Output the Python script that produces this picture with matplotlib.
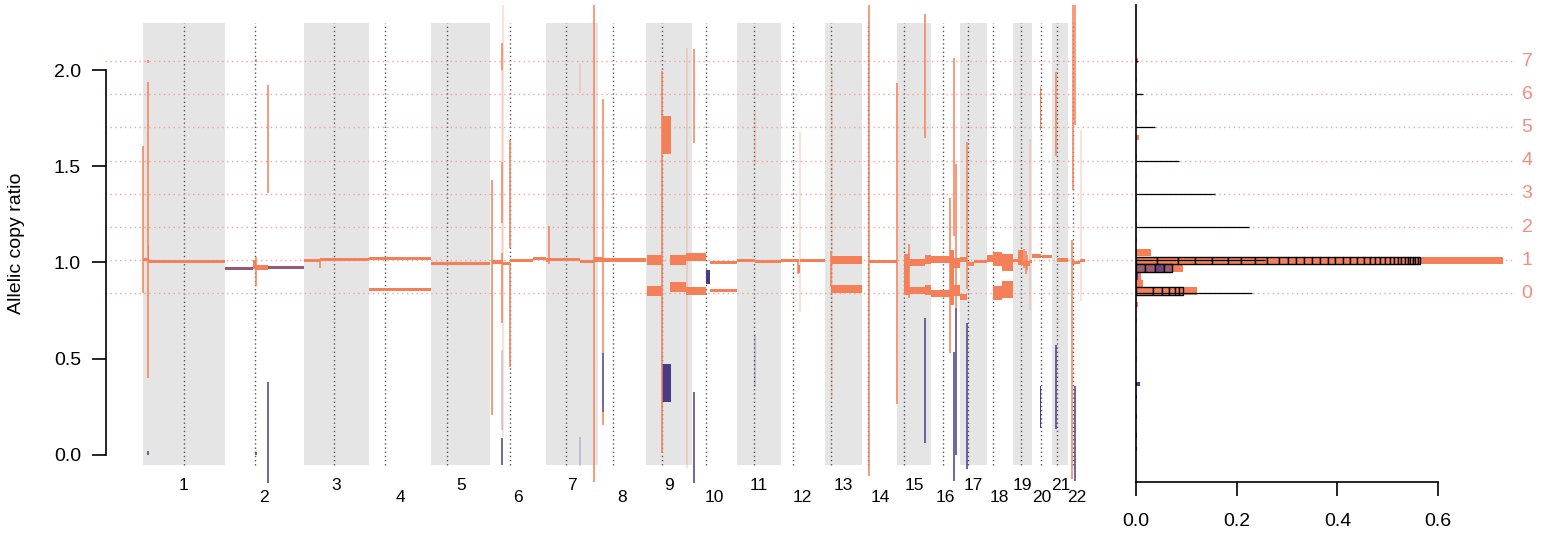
import numpy as np
import matplotlib.pyplot as plt
import matplotlib.transforms as mtransforms
from matplotlib.patches import Rectangle

plt.rcParams['font.family'] = ['Liberation Sans', 'DejaVu Sans']

# chromosome sizes and centromeres (Mb, hg19)
chrom_len = [249.25, 243.2, 198.0, 191.15, 180.9, 171.1, 159.1, 146.4, 141.2, 135.5, 135.0,
             133.85, 115.2, 107.3, 102.5, 90.35, 81.2, 78.1, 59.1, 63.0, 48.1, 51.3]
centromere = [125.0, 93.3, 91.0, 50.4, 48.4, 61.0, 59.9, 45.6, 49.0, 40.2, 53.7,
              35.8, 17.9, 17.6, 19.0, 36.6, 24.0, 17.2, 26.5, 27.5, 13.2, 14.7]

# allelic segments: chromosome, start / end (Mb), ratio, error half-width, colour kind
seg_chrom = [1, 1, 1,
             2, 2, 2, 2,
             3, 3, 4, 4, 5,
             6, 6, 6, 6,
             7, 7, 7, 7, 8, 8,
             9, 9, 9, 9, 9, 9, 9, 9,
             10, 10, 10, 10, 10,
             11, 11, 12, 12, 12,
             13, 13, 14,
             15, 15, 15, 15, 15,
             16, 16, 16, 16, 16,
             17, 17, 17, 17,
             18, 18, 18, 18, 18,
             19, 19, 19, 19,
             20, 20, 20, 20,
             21, 22, 22, 22]
seg_start = [0, 16, 16,
             0, 88, 97, 133,
             0, 49, 0, 0, 0,
             4, 38, 60, 129,
             0, 6, 103, 146, 0, 15,
             1, 1, 47, 47, 73, 73, 122, 122,
             0, 0, 42, 54, 54,
             0, 56, 0, 51, 58,
             20, 20, 21,
             20, 36, 36, 84, 84,
             0, 0, 58, 71, 71,
             0, 0, 19, 41,
             0, 17, 17, 45, 45,
             0, 17, 31, 53,
             0, 30, 26, 26,
             13, 12, 17, 35]
seg_end = [16, 249.25, 18,
           88, 97, 133, 243.2,
           49, 198.0, 191.15, 191.15, 180.9,
           38, 60, 129, 171.1,
           6, 103, 146, 159.1, 15, 146.4,
           47, 47, 75, 75, 122, 122, 141.2, 141.2,
           42, 42, 54, 135.5, 135.5,
           56, 135.0, 54, 58, 133.85,
           115.2, 115.2, 107.3,
           36, 84, 84, 102.5, 102.5,
           58, 58, 71, 90.35, 90.35,
           19, 19, 41, 81.2,
           17, 45, 45, 78.1, 78.1,
           17, 31, 53, 59.1,
           28, 63.0, 29, 29,
           48.1, 17, 35, 51.3]
seg_ratio = [1.016, 1.007, 1.048,
             0.969, 0.990, 0.974, 0.974,
             1.012, 1.017, 1.021, 0.861, 0.996,
             1.003, 0.994, 1.011, 1.020,
             1.014, 1.016, 1.007, 1.017, 1.017, 1.013,
             1.013, 0.853, 1.662, 0.374, 1.013, 0.872, 1.030, 0.853,
             1.030, 0.853, 0.925, 1.000, 0.856,
             1.012, 1.006, 1.012, 0.965, 1.012,
             1.013, 0.861, 1.007,
             0.937, 1.000, 0.855, 1.015, 0.857,
             1.016, 0.840, 0.922, 0.997, 0.855,
             1.016, 0.821, 0.994, 1.005,
             1.020, 1.020, 0.841, 1.000, 0.860,
             1.010, 1.026, 0.995, 1.005,
             1.034, 1.029, 1.800, 0.248,
             1.013, 1.005, 1.000, 1.010]
seg_err = [0.007, 0.008, 0.037,
           0.007, 0.025, 0.013, 0.008,
           0.008, 0.008, 0.008, 0.008, 0.009,
           0.011, 0.007, 0.008, 0.008,
           0.011, 0.008, 0.008, 0.012, 0.012, 0.008,
           0.026, 0.026, 0.100, 0.098, 0.026, 0.026, 0.021, 0.021,
           0.021, 0.021, 0.036, 0.008, 0.008,
           0.008, 0.008, 0.008, 0.020, 0.008,
           0.020, 0.020, 0.008,
           0.106, 0.017, 0.017, 0.025, 0.026,
           0.017, 0.017, 0.143, 0.027, 0.028,
           0.015, 0.016, 0.011, 0.009,
           0.018, 0.036, 0.036, 0.044, 0.044,
           0.008, 0.040, 0.015, 0.008,
           0.011, 0.008, 0.110, 0.109,
           0.008, 0.012, 0.010, 0.009]
seg_kind = ['o', 'o', 'o',
            'm', 'o', 'o', 'm',
            'o', 'o', 'o', 'o', 'o',
            'o', 'o', 'o', 'o',
            'o', 'o', 'o', 'o', 'o', 'o',
            'o', 'o', 'o', 'p', 'o', 'o', 'o', 'o',
            'o', 'o', 'p', 'o', 'o',
            'o', 'o', 'o', 'o', 'o',
            'o', 'o', 'o',
            'o', 'o', 'o', 'o', 'o',
            'o', 'o', 'o', 'o', 'o',
            'o', 'o', 'o', 'o',
            'o', 'o', 'o', 'o', 'o',
            'o', 'o', 'o', 'o',
            'o', 'o', 'o', 'p',
            'o', 'o', 'o', 'o']

# short, noisy segments drawn as thin spikes: chromosome, position (Mb), low, high, kind
spike_chrom = [1, 1, 1, 1,
               2, 2, 2, 2, 2, 3,
               6, 6, 6, 6, 6, 6, 6, 6, 6, 6, 6,
               7, 7, 7, 7, 8, 8, 8,
               9, 9, 10, 10, 11, 11, 12, 12, 13, 13, 14, 14,
               15, 15, 15, 16, 16, 16, 16, 16, 17, 17,
               19, 19, 19, 19, 21, 21,
               22, 22, 22, 22, 22]
spike_pos = [0.5, 16.5, 16.5, 16.5,
             97, 131.5, 131.5, 96.5, 96.5, 49.5,
             4, 36.5, 36.5, 36.5, 36.5, 36.5, 36.5, 36.5, 39.5, 60.6, 60.6,
             9, 146.5, 102.8, 102.8, 15, 15, 15,
             47, 123.2, 5.8, 5.8, 56, 56, 59, 51, 20, 22.5, 21.4, 106,
             35, 85.3, 85.3, 59.3, 69.7, 69.7, 75.5, 75.5, 19, 19,
             35, 40, 45, 54, 10.7, 10.7,
             15.6, 12.5, 21.7, 21.7, 40]
spike_lo = [0.839, 0.400, 2.035, 0.000,
            0.878, 1.362, -0.146, 2.040, 0.000, 0.970,
            0.207, 2.000, 1.524, 1.204, 1.050, 0.687, 0.129, -0.053, 0.094, 1.074, 0.458,
            0.990, -0.140, 1.880, -0.060, 0.528, 0.224, 0.155,
            0.008, -0.070, 1.623, -0.146, 1.510, 0.350, 0.745, 0.940, 0.870, 0.300, -0.110, 0.264,
            0.817, 1.647, 0.062, 0.527, 1.140, -0.137, 0.763, 0.000, 0.864, -0.074,
            0.970, 0.940, 0.960, 0.753, 1.555, 0.135,
            1.377, -0.128, 1.715, -0.137, 0.800]
spike_hi = [1.608, 1.940, 2.055, 0.020,
            1.028, 1.923, 0.380, 2.060, 0.015, 1.012,
            1.428, 2.140, 2.000, 1.524, 1.204, 1.050, 0.545, 0.087, 2.339, 1.637, 0.996,
            1.190, 2.339, 2.030, 0.090, 1.850, 0.528, 0.224,
            1.998, 2.114, 2.109, 0.328, 1.790, 0.630, 1.680, 1.000, 1.060, 2.000, 2.339, 1.934,
            1.096, 2.294, 0.709, 1.335, 2.062, 0.535, 1.514, 0.763, 1.626, 0.685,
            1.070, 1.060, 1.040, 1.644, 1.990, 0.571,
            2.339, 1.117, 2.339, 0.357, 1.690]
spike_kind = ['o', 'o', 'o', 'p',
              'o', 'o', 'p', 'o', 'p', 'o',
              'o', 'o', 'fo', 'o', 'fo', 'o', 'fp', 'p', 'fo', 'o', 'o',
              'o', 'o', 'fo', 'fp', 'o', 'p', 'o',
              'o', 'fo', 'o', 'p', 'fo', 'fp', 'fo', 'o', 'o', 'fo', 'o', 'o',
              'o', 'o', 'p', 'o', 'o', 'p', 'o', 'p', 'o', 'p',
              'o', 'o', 'o', 'fo', 'o', 'p',
              'o', 'o', 'o', 'p', 'fo']

# copy-number levels (dotted lines, labels 0..7)
level_labels = [0, 1, 2, 3, 4, 5, 6, 7]
level_ratio = [0.839, 1.012, 1.184, 1.357, 1.530, 1.702, 1.875, 2.047]
level_line_len = [0.231, 0.257, 0.224, 0.156, 0.086, 0.038, 0.0145, 0.004]

# right-hand histogram rows: ratio, total length fraction, colour kind
hist_ratio = [1.052, 1.011, 0.972, 0.930, 0.930, 0.891, 0.852]
hist_total = [0.030, 0.728, 0.093, 0.009, 0.003, 0.013, 0.122]
hist_kind = ['o', 'o', 'o', 'o', 'p', 'o', 'o']
# individual segments stacked inside the main rows
boxes_level1 = [0.041, 0.043, 0.033, 0.033, 0.032, 0.026, 0.028, 0.025, 0.023, 0.017, 0.016,
                0.016, 0.017, 0.016, 0.015, 0.015, 0.015, 0.015, 0.013, 0.013, 0.012, 0.011,
                0.010, 0.010, 0.009, 0.008, 0.008, 0.007, 0.007, 0.006, 0.005, 0.005, 0.005,
                0.005, 0.005]
boxes_mixed = [0.018, 0.020, 0.017, 0.017]
boxes_mixed_col = ['#9E5B73', '#9E5B73', '#73457E', '#9E5B73']
boxes_level0 = [0.034, 0.017, 0.015, 0.011, 0.009, 0.007]
# tiny rows along the axis
small_ratio = [2.05, 1.95, 1.87, 1.78, 1.648, 1.55, 1.45, 1.33, 1.20, 1.12, 0.78, 0.70, 0.60, 0.50,
               0.368, 0.30, 0.20, 0.10, 0.03]
small_len = [0.003, 0.002, 0.002, 0.002, 0.006, 0.002, 0.002, 0.002, 0.002, 0.002, 0.003, 0.002,
             0.002, 0.002, 0.008, 0.002, 0.002, 0.002, 0.002]
small_kind = ['o'] * 14 + ['p'] * 5

ORANGE = '#F4805A'
PURPLE = '#473B8A'
MIXED = '#965A77'
GRAY = '#E4E5E4'
LEVEL_COL = '#F4A39C'
LABEL_COL = '#F58C80'
kind_style = {'o': (ORANGE, 1.0), 'p': (PURPLE, 1.0), 'm': (MIXED, 1.0),
              'fo': (ORANGE, 0.3), 'fp': (PURPLE, 0.3)}

W, H = 1551, 537
fig = plt.figure(figsize=(W / 100, H / 100), dpi=100)
ylo, yhi = -0.139, 2.339
ax = fig.add_axes([143 / W, (H - 481.5) / H, 942 / W, 476.5 / H])
chrom_start = np.concatenate([[0], np.cumsum(chrom_len)[:-1]])
total = float(np.sum(chrom_len))
ax.set_xlim(0, total)
ax.set_ylim(ylo, yhi)

# chromosome bands and centromeres
for i, (st, ln) in enumerate(zip(chrom_start, chrom_len)):
    if i % 2 == 0:
        ax.add_patch(Rectangle((st, -0.051), ln, 2.297, color=GRAY, lw=0, zorder=0))
ax.vlines(chrom_start + np.array(centromere), -0.051, 2.246, colors='#555555',
          linestyles=(0, (1, 2)), lw=1, zorder=1)

# dotted copy-number levels across both panels
blend = mtransforms.blended_transform_factory(fig.transFigure, ax.transData)
for lv in level_ratio:
    ax.plot([105 / W, 1136 / W], [lv, lv], transform=blend, color=LEVEL_COL,
            ls=(0, (1, 2.5)), lw=1, clip_on=False, zorder=1.5)

# segments
for c, s, e, r, er, k in zip(seg_chrom, seg_start, seg_end, seg_ratio, seg_err, seg_kind):
    col, a = kind_style[k]
    x0 = chrom_start[c - 1] + s
    ax.add_patch(Rectangle((x0, r - er), e - s, 2 * er, facecolor=col, alpha=a,
                           lw=0, zorder=3))
for c, p, lo, hi, k in zip(spike_chrom, spike_pos, spike_lo, spike_hi, spike_kind):
    col, a = kind_style[k]
    ax.vlines(chrom_start[c - 1] + p, lo, hi, colors=col, alpha=a, lw=1.1,
              zorder=4, clip_on=False)

for s in ['top', 'right', 'bottom']:
    ax.spines[s].set_visible(False)
ax.spines['left'].set_position(('outward', 37 * 0.72))
ax.spines['left'].set_bounds(0, 2)
ax.spines['left'].set_linewidth(1.2)
ax.set_xticks([])
ax.set_yticks([0, 0.5, 1.0, 1.5, 2.0])
ax.set_yticklabels(['0.0', '0.5', '1.0', '1.5', '2.0'])
ax.tick_params(axis='y', length=10, width=1.2, labelsize=14, pad=8)
fig.text(17 / W, 1 - 243 / H, 'Allelic copy ratio', rotation=90, ha='center',
         va='center', fontsize=14)

lab_trans = mtransforms.blended_transform_factory(ax.transData, fig.transFigure)
for i, (st, ln) in enumerate(zip(chrom_start, chrom_len)):
    yy = 1 - (485 if i % 2 == 0 else 497) / H
    ax.text(st + ln / 2, yy, str(i + 1), transform=lab_trans, ha='center',
            va='center', fontsize=12.5)

# histogram panel
ax2 = fig.add_axes([1136 / W, (H - 481.5) / H, (W - 1136) / W, 476.5 / H])
ax2.patch.set_alpha(0)
ax2.set_xlim(0, 415 / 503.5)
ax2.set_ylim(ylo, yhi)
for lv in level_ratio:
    ax2.plot([0, 0.753], [lv, lv], color=LEVEL_COL, ls=(0, (1, 2.5)), lw=1, zorder=1)
for lab, lv in zip(level_labels, level_ratio):
    ax2.text(0.7766, lv, str(lab), color=LABEL_COL, fontsize=14, ha='center',
             va='center', clip_on=False)

rh = 0.039
for r, t, k in zip(hist_ratio, hist_total, hist_kind):
    ax2.barh(r, t, height=rh, color=kind_style[k][0], lw=0, zorder=2)
for r, t, k in zip(small_ratio, small_len, small_kind):
    ax2.barh(r, t, height=0.025, color=kind_style[k][0], lw=0, zorder=2)

left1 = np.concatenate([[0], np.cumsum(boxes_level1)[:-1]])
ax2.barh([1.011] * len(boxes_level1), boxes_level1, left=left1, height=rh,
         color=ORANGE, edgecolor='black', lw=1, zorder=3)
leftm = np.concatenate([[0], np.cumsum(boxes_mixed)[:-1]])
ax2.barh([0.972] * len(boxes_mixed), boxes_mixed, left=leftm, height=rh,
         color=boxes_mixed_col, edgecolor='black', lw=1, zorder=3)
left0 = np.concatenate([[0], np.cumsum(boxes_level0)[:-1]])
ax2.barh([0.852] * len(boxes_level0), boxes_level0, left=left0, height=rh,
         color=ORANGE, edgecolor='black', lw=1, zorder=3)
ax2.hlines(level_ratio, 0, level_line_len, colors='black', lw=0.9, zorder=4)

for s in ['top', 'right']:
    ax2.spines[s].set_visible(False)
ax2.spines['bottom'].set_bounds(0, 0.6)
ax2.spines['bottom'].set_linewidth(1.2)
ax2.spines['left'].set_linewidth(1.2)
ax2.set_yticks([])
ax2.set_xticks([0, 0.2, 0.4, 0.6])
ax2.set_xticklabels(['0.0', '0.2', '0.4', '0.6'])
ax2.tick_params(axis='x', length=10, width=1.2, labelsize=14, pad=13)

fig.savefig('out.png', dpi=100)
